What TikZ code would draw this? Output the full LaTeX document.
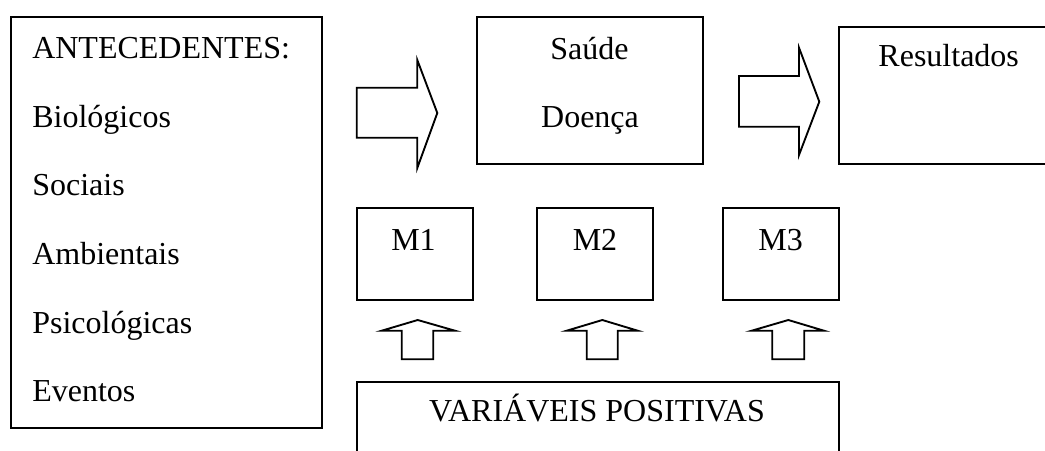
\documentclass[tikz,border=0pt]{standalone}
\usepackage{fontspec}
\setmainfont{Liberation Serif}
\begin{document}
\begin{tikzpicture}[x=0.75pt,y=-0.75pt,
  box/.style={draw, line width=1.4pt, inner sep=0pt, rectangle},
  lbl/.style={anchor=base, inner sep=0pt, font=\fontsize{24}{28}\selectfont},
  lbll/.style={anchor=base west, inner sep=0pt, font=\fontsize{24}{28}\selectfont},
  blockarrow/.style={draw, line width=1.4pt, line join=miter}]
\useasboundingbox (0,0) rectangle (1045,450);
\clip (0,0) rectangle (1045,450);
% boxes
\node[box, minimum width=233.25pt, minimum height=308.25pt] (ant) at (166.5,222.5) {};
\node[box, minimum width=170pt, minimum height=110.5pt] (sd) at (590,90.35) {};
\node[box, minimum width=164.25pt, minimum height=103pt] (res) at (948.5,95.35) {};
\node[box, minimum width=87.45pt, minimum height=68.8pt] (m1) at (415,254.15) {};
\node[box, minimum width=87.45pt, minimum height=68.8pt] (m2) at (595,254.15) {};
\node[box, minimum width=87.45pt, minimum height=68.8pt] (m3) at (781,254.15) {};
\node[box, minimum width=361.7pt, minimum height=66pt] (vp) at (597.85,426) {};
% texts
\node[lbll] (t1) at (32,58.3) {ANTECEDENTES:};
\node[lbll] (t2) at (32,127) {Biológicos};
\node[lbll] (t3) at (32,195.7) {Sociais};
\node[lbll] (t4) at (32,264.3) {Ambientais};
\node[lbll] (t5) at (32,333) {Psicológicas};
\node[lbll] (t6) at (32,401.7) {Eventos};
\node[lbl] (ts) at (589.5,59) {Saúde};
\node[lbl] (td) at (590,127.7) {Doença};
\node[lbl] (tr) at (948.7,66.7) {Resultados};
\node[lbl] (tm1) at (413.5,250) {M1};
\node[lbl] (tm2) at (595,250) {M2};
\node[lbl] (tm3) at (780.7,250) {M3};
\node[lbl] (tvp) at (597,421.7) {VARIÁVEIS POSITIVAS};
% right block arrows
\draw[blockarrow] (356.7,87.7) -- (417.3,87.7) -- (417.3,60) -- (437.3,113)
  -- (417.3,168) -- (417.3,137.7) -- (356.7,137.7) -- cycle;
\draw[blockarrow] (739,76) -- (799,76) -- (799,47.7) -- (819.3,101.7)
  -- (799,155) -- (799,126.7) -- (739,126.7) -- cycle;
% up block arrows
\draw[blockarrow] (401.7,359.3) -- (401.7,330.7) -- (381.7,330.7) -- (417.7,320)
  -- (455,330.7) -- (433.3,330.7) -- (433.3,359.3) -- cycle;
\draw[blockarrow] (586.7,359.3) -- (586.7,330.7) -- (566.7,330.7) -- (602.3,320)
  -- (637.7,330.7) -- (617.7,330.7) -- (617.7,359.3) -- cycle;
\draw[blockarrow] (772.3,359.3) -- (772.3,330.7) -- (751.7,330.7) -- (788.3,320)
  -- (824,330.7) -- (804.3,330.7) -- (804.3,359.3) -- cycle;
\end{tikzpicture}
\end{document}
